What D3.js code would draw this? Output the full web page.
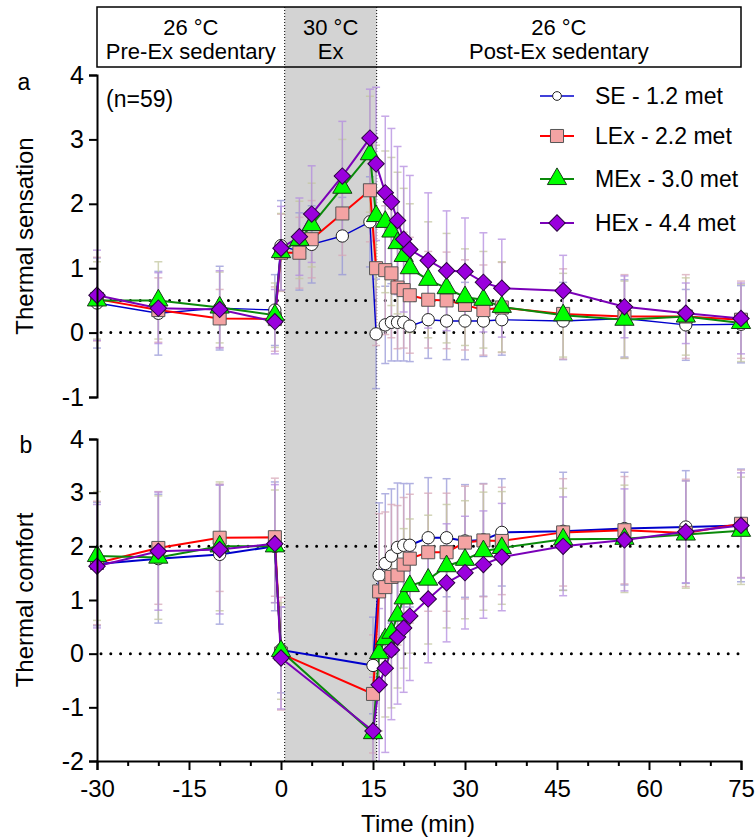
<!DOCTYPE html>
<html>
<head>
<meta charset="utf-8">
<script src="https://cdn.jsdelivr.net/npm/d3@7"></script>
<style>
  body { margin: 0; background: #fff; }
  svg text { font-family: "Liberation Sans", Arial, sans-serif; fill: #000; }
</style>
</head>
<body>
<svg id="chart" width="756" height="839"></svg>
<script>
// time points (min)
var timesSens = [-30, -20, -10, -1, 0, 3, 5, 10, 14.5, 15.5, 17, 18, 19, 20, 21, 24, 27, 30, 33, 36, 46, 56, 66, 75];
var timesComf = [-30, -20, -10, -1, 0, 15, 16, 17, 18, 19, 20, 21, 24, 27, 30, 33, 36, 46, 56, 66, 75];

// thermal sensation means
var sensSE  = [0.46, 0.30, 0.38, 0.35, 1.35, 1.26, 1.37, 1.50, 1.72, -0.02, 0.12, 0.16, 0.16, 0.16, 0.10, 0.20, 0.18, 0.18, 0.18, 0.20, 0.18, 0.22, 0.12, 0.13];
var sensLEx = [0.52, 0.35, 0.22, 0.21, 1.24, 1.24, 1.45, 1.85, 2.21, 1.00, 0.97, 0.92, 0.70, 0.66, 0.58, 0.51, 0.50, 0.43, 0.35, 0.39, 0.29, 0.25, 0.25, 0.20];
var sensMEx = [0.50, 0.50, 0.39, 0.27, 1.25, 1.44, 1.67, 2.25, 2.77, 1.81, 1.72, 1.57, 1.39, 1.19, 1.00, 0.82, 0.69, 0.55, 0.51, 0.40, 0.27, 0.20, 0.25, 0.15];
var sensHEx = [0.58, 0.38, 0.36, 0.17, 1.31, 1.49, 1.84, 2.43, 3.02, 2.62, 2.17, 2.03, 1.74, 1.45, 1.29, 1.12, 0.96, 0.95, 0.78, 0.69, 0.65, 0.40, 0.30, 0.22];
// thermal sensation SD
var sdSensSE  = [0.70, 0.65, 0.65, 0.55, 0.70, 0.60, 0.60, 0.60, 0.70, 0.85, 0.60, 0.60, 0.60, 0.60, 0.55, 0.60, 0.60, 0.60, 0.55, 0.55, 0.60, 0.60, 0.55, 0.60];
var sdSensLEx = [0.65, 0.50, 0.45, 0.50, 0.60, 0.55, 0.60, 0.65, 0.80, 1.20, 1.00, 1.00, 0.95, 0.90, 0.90, 0.75, 0.75, 0.70, 0.70, 0.70, 0.70, 0.65, 0.65, 0.60];
var sdSensMEx = [0.60, 0.60, 0.55, 0.50, 0.60, 0.60, 0.65, 0.75, 0.90, 1.10, 1.10, 1.15, 1.10, 1.05, 1.00, 0.90, 0.85, 0.75, 0.75, 0.70, 0.65, 0.60, 0.60, 0.60];
var sdSensHEx = [0.70, 0.55, 0.60, 0.50, 0.65, 0.60, 0.75, 0.85, 0.76, 1.19, 1.19, 1.14, 1.15, 1.13, 1.15, 1.05, 0.93, 0.83, 0.77, 0.76, 0.55, 0.48, 0.47, 0.55];

// thermal comfort means
var comfSE  = [1.67, 1.77, 1.85, 2.00, 0.07, -0.22, 1.46, 1.68, 1.82, 1.98, 2.02, 2.02, 2.16, 2.16, 2.10, 2.12, 2.26, 2.28, 2.33, 2.36, 2.39];
var comfLEx = [1.69, 1.97, 2.16, 2.17, 0.00, -0.75, 1.16, 1.24, 1.43, 1.46, 1.66, 1.77, 1.89, 1.89, 2.07, 2.11, 2.10, 2.26, 2.30, 2.25, 2.42];
var comfMEx = [1.82, 1.79, 2.00, 2.00, 0.05, -1.48, 0.01, 0.27, 0.39, 0.71, 1.03, 1.26, 1.38, 1.63, 1.75, 1.91, 1.97, 2.13, 2.14, 2.22, 2.29];
var comfHEx = [1.63, 1.91, 1.94, 2.05, -0.08, -1.44, -0.58, -0.27, 0.07, 0.31, 0.48, 0.70, 1.02, 1.32, 1.51, 1.66, 1.80, 2.00, 2.12, 2.27, 2.39];
// thermal comfort SD
var sdComfSE  = [1.15, 1.20, 1.30, 1.20, 0.80, 0.90, 1.35, 1.30, 1.25, 1.20, 1.15, 1.15, 1.12, 1.10, 1.05, 1.05, 1.00, 1.10, 1.05, 1.05, 1.05];
var sdComfLEx = [1.15, 1.05, 1.00, 1.10, 1.05, 1.10, 1.45, 1.40, 1.35, 1.30, 1.25, 1.20, 1.10, 1.10, 1.05, 1.05, 1.00, 1.00, 1.00, 1.00, 1.00];
var sdComfMEx = [1.20, 1.15, 1.20, 1.05, 0.90, 1.10, 1.45, 1.45, 1.40, 1.35, 1.30, 1.25, 1.20, 1.15, 1.10, 1.10, 1.05, 0.95, 1.00, 1.00, 1.00];
var sdComfHEx = [1.15, 1.10, 1.20, 1.10, 0.95, 1.00, 1.42, 1.57, 1.30, 1.25, 1.20, 1.20, 1.19, 1.10, 1.05, 1.00, 1.00, 0.92, 0.95, 0.95, 0.98];

var seriesNames = ["SE - 1.2 met", "LEx - 2.2 met", "MEx - 3.0 met", "HEx - 4.4 met"];
var xTicks = [-30, -15, 0, 15, 30, 45, 60, 75];
var sensTicks = [-1, 0, 1, 2, 3, 4];
var comfTicks = [-2, -1, 0, 1, 2, 3, 4];
var phaseTemps = ["26 \u00B0C", "30 \u00B0C", "26 \u00B0C"];
var phaseNames = ["Pre-Ex sedentary", "Ex", "Post-Ex sedentary"];
var exStart = 0.6, exEnd = 15.6;

// styles per series
var styles = [
  {line: "#0000cc", lw: 1.4, fill: "#ffffff", stroke: "#222", shape: "circle", size: 120, err: "#9898d8"},
  {line: "#ff0000", lw: 2,   fill: "#f4a3a3", stroke: "#555", shape: "square", size: 170, err: "#d8a8b8"},
  {line: "#0a8a0a", lw: 2,   fill: "#00ff00", stroke: "#1a3a1a", shape: "triangle", size: 160, err: "#c4c8a0"},
  {line: "#7a00b8", lw: 2,   fill: "#9a00dd", stroke: "#2a0040", shape: "diamond", size: 135, err: "#b48ce0"}
];

var svg = d3.select("#chart");
var x = d3.scaleLinear().domain([-30, 75]).range([97, 741]);
var ySens = d3.scaleLinear().domain([-1, 4]).range([397, 75]);
var yComf = d3.scaleLinear().domain([-2, 4]).range([761, 439]);

function symbolPath(st) {
  if (st.shape === "circle") return d3.symbol(d3.symbolCircle, st.size)();
  if (st.shape === "square") return d3.symbol(d3.symbolSquare, st.size)();
  if (st.shape === "triangle") return d3.symbol(d3.symbolTriangle, st.size)();
  return d3.symbol(d3.symbolSquare, st.size)();
}
function symbolRot(st) { return st.shape === "diamond" ? " rotate(45)" : ""; }

// shaded exercise period + dotted borders
svg.append("rect")
    .attr("x", x(exStart)).attr("y", 7)
    .attr("width", x(exEnd) - x(exStart)).attr("height", 761 - 7)
    .attr("fill", "#d3d3d3");
[exStart, exEnd].forEach(function(t) {
  svg.append("line")
      .attr("x1", x(t)).attr("x2", x(t)).attr("y1", 7).attr("y2", 761)
      .attr("stroke", "#000").attr("stroke-width", 1).attr("stroke-dasharray", "1,2");
});

// header box
svg.append("rect")
    .attr("x", x(-30)).attr("y", 7)
    .attr("width", x(75) - x(-30)).attr("height", 60)
    .attr("fill", "none").attr("stroke", "#000").attr("stroke-width", 1.5);
var phaseCenters = [(x(-30) + x(exStart)) / 2, (x(exStart) + x(exEnd)) / 2, (x(exEnd) + x(75)) / 2];
phaseCenters.forEach(function(cx, i) {
  svg.append("text").attr("x", cx).attr("y", 35).attr("text-anchor", "middle")
      .style("font-size", "22px").text(phaseTemps[i]);
  svg.append("text").attr("x", cx).attr("y", 59).attr("text-anchor", "middle")
      .style("font-size", "22px").text(phaseNames[i]);
});

function drawPanel(y, times, means, sds, refs, ticks, seLine) {
  var g = svg.append("g");

  // reference dotted lines
  refs.forEach(function(v) {
    g.append("line")
        .attr("x1", x(-30) + 4).attr("x2", x(75))
        .attr("y1", y(v)).attr("y2", y(v))
        .attr("stroke", "#000").attr("stroke-width", 3)
        .attr("stroke-linecap", "round").attr("stroke-dasharray", "0,9.8");
  });

  // error bars
  means.forEach(function(m, s) {
    var st = styles[s];
    var eb = g.append("g").attr("stroke", st.err).attr("stroke-width", 1.5).attr("opacity", 0.75);
    times.forEach(function(t, i) {
      var lo = Math.max(y.domain()[0], m[i] - sds[s][i]), hi = m[i] + sds[s][i];
      eb.append("line").attr("x1", x(t)).attr("x2", x(t)).attr("y1", y(lo)).attr("y2", y(hi));
      eb.append("line").attr("x1", x(t) - 4).attr("x2", x(t) + 4).attr("y1", y(hi)).attr("y2", y(hi));
      if (lo > y.domain()[0]) {
        eb.append("line").attr("x1", x(t) - 4).attr("x2", x(t) + 4).attr("y1", y(lo)).attr("y2", y(lo));
      }
    });
  });

  // lines
  means.forEach(function(m, s) {
    var line = d3.line().x(function(d, i) { return x(times[i]); }).y(function(d) { return y(d); });
    g.append("path").attr("d", line(m))
        .attr("fill", "none").attr("stroke", styles[s].line)
        .attr("stroke-width", s === 0 ? seLine : styles[s].lw);
  });

  // markers
  means.forEach(function(m, s) {
    var st = styles[s];
    g.selectAll(null).data(m).enter().append("path")
        .attr("d", symbolPath(st))
        .attr("transform", function(d, i) { return "translate(" + x(times[i]) + "," + y(d) + ")" + symbolRot(st); })
        .attr("fill", st.fill).attr("stroke", st.stroke).attr("stroke-width", 1);
  });

  // y axis
  var ax = g.append("g").attr("transform", "translate(" + x(-30) + ",0)")
      .call(d3.axisLeft(y).tickValues(ticks).tickSize(8).tickPadding(5).tickFormat(function(d) { return String(d); }));
  ax.selectAll("path, line").attr("stroke", "#000").attr("stroke-width", 2);
  ax.selectAll("text").style("font-size", "25px").attr("fill", "#000");
  return g;
}

drawPanel(ySens, timesSens, [sensSE, sensLEx, sensMEx, sensHEx],
    [sdSensSE, sdSensLEx, sdSensMEx, sdSensHEx], [0.5, 0], sensTicks, 1.4);
drawPanel(yComf, timesComf, [comfSE, comfLEx, comfMEx, comfHEx],
    [sdComfSE, sdComfLEx, sdComfMEx, sdComfHEx], [2, 0], comfTicks, 2);

// x axis (bottom panel) with minor ticks
var minorTicks = d3.range(-30, 76, 5).filter(function(d) { return xTicks.indexOf(d) < 0; });
var xMinor = svg.append("g").attr("transform", "translate(0," + yComf(-2) + ")")
    .call(d3.axisBottom(x).tickValues(minorTicks).tickSize(5).tickFormat(""));
xMinor.select(".domain").remove();
xMinor.selectAll("line").attr("stroke", "#000").attr("stroke-width", 2);
var xAx = svg.append("g").attr("transform", "translate(0," + yComf(-2) + ")")
    .call(d3.axisBottom(x).tickValues(xTicks).tickSize(9).tickPadding(10).tickFormat(function(d) { return String(d); }));
xAx.selectAll("path, line").attr("stroke", "#000").attr("stroke-width", 2);
xAx.selectAll("text").style("font-size", "24px").attr("fill", "#000");

// axis titles and panel letters
svg.append("text").attr("transform", "translate(33," + ySens(1.5) + ") rotate(-90)")
    .attr("text-anchor", "middle").style("font-size", "24px").text("Thermal sensation");
svg.append("text").attr("transform", "translate(33," + yComf(1) + ") rotate(-90)")
    .attr("text-anchor", "middle").style("font-size", "24px").text("Thermal comfort");
svg.append("text").attr("x", 418).attr("y", 832)
    .attr("text-anchor", "middle").style("font-size", "24px").text("Time (min)");
svg.append("text").attr("x", 24).attr("y", 90).attr("text-anchor", "middle").style("font-size", "23px").text("a");
svg.append("text").attr("x", 26).attr("y", 453).attr("text-anchor", "middle").style("font-size", "23px").text("b");
svg.append("text").attr("x", 106).attr("y", 107).style("font-size", "23px").text("(n=59)");

// legend
var legendY = [96, 136, 179, 223];
var legend = svg.append("g");
styles.forEach(function(st, i) {
  legend.append("line").attr("x1", 540).attr("x2", 574).attr("y1", legendY[i]).attr("y2", legendY[i])
      .attr("stroke", st.line).attr("stroke-width", st.lw);
  legend.append("path").attr("d", symbolPath(i === 0 ? {shape: "circle", size: 60} : st))
      .attr("transform", "translate(557," + legendY[i] + ")" + symbolRot(st))
      .attr("fill", st.fill).attr("stroke", st.stroke).attr("stroke-width", 1);
  legend.append("text").attr("x", 595).attr("y", legendY[i] + 8).style("font-size", "23px").text(seriesNames[i]);
});
</script>
</body>
</html>
